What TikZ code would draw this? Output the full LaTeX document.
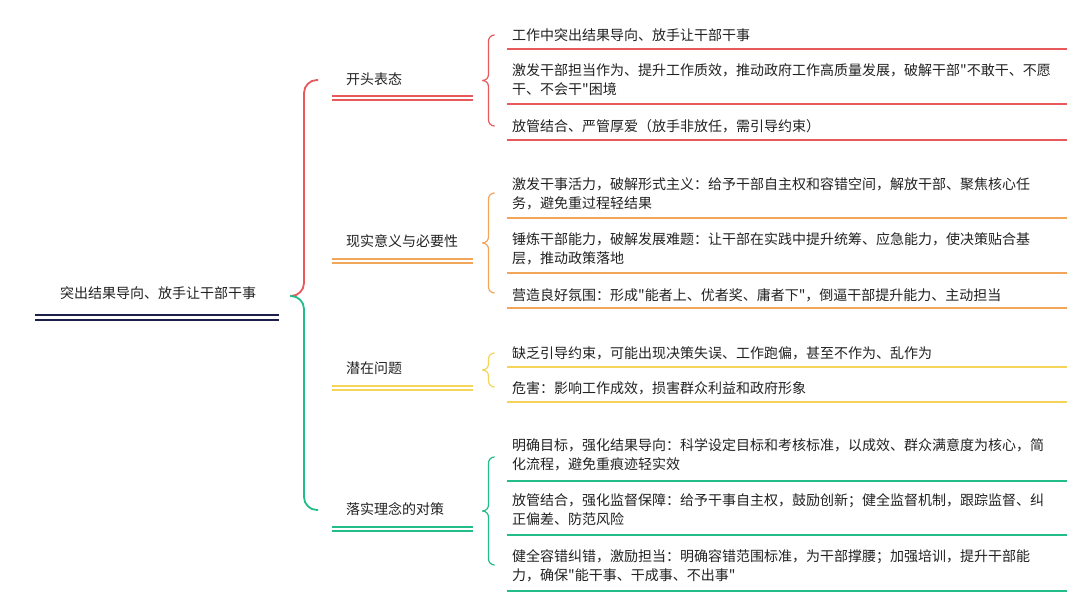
\documentclass[tikz,border=0pt]{standalone}
\usepackage{fontspec}
\setmainfont{Noto Sans CJK SC}[Ligatures=TeXOff]
\definecolor{cred}{HTML}{E8595B}
\definecolor{corange}{HTML}{F2A65A}
\definecolor{cyellow}{HTML}{F4D55A}
\definecolor{cgreen}{HTML}{22BD88}
\definecolor{cnavy}{HTML}{1C1F4A}
\definecolor{tgray}{HTML}{222222}
\begin{document}
\begin{tikzpicture}[x=1pt,y=-1pt,
  txt/.style={anchor=west, inner sep=0pt, align=left, font=\fontsize{14}{19}\selectfont, text=tgray},
  lbl/.style={anchor=west, inner sep=0pt, font=\fontsize{14}{19}\selectfont, text=tgray},
  ul/.style={line width=1.8pt},
  dbl/.style={line width=1.7pt},
  bigbrace/.style={line width=1.8pt, rounded corners=13pt},
  smallbrace/.style={line width=1.2pt, rounded corners=6pt}]
\fill[white] (0,0) rectangle (1080,607);
\useasboundingbox (0,0) rectangle (1080,607);

% root
\node[lbl, anchor=center] (root) at (158,293) {突出结果导向、放手让干部干事};
\draw[cnavy, line width=2.3pt] (35,315) -- (279,315) (35,320) -- (279,320);
\coordinate (rtip) at (290,296);

% branch labels
\node[lbl] (b1) at (346,79) {开头表态};
\node[lbl] (b2) at (346,241) {现实意义与必要性};
\node[lbl] (b3) at (346,368) {潜在问题};
\node[lbl] (b4) at (346,509) {落实理念的对策};
\coordinate (e1) at (318,80);
\coordinate (e4) at (318,510);

% root brace
\draw[cred, bigbrace] (rtip) -- (304,296) -- (304,80) -- (e1);
\draw[cgreen, bigbrace] (rtip) -- (304,296) -- (304,510) -- (e4);

% branch double lines
\draw[cred, dbl] (332,96) -- (473,96) (332,100) -- (473,100);
\draw[corange, dbl] (332,259) -- (473,259) (332,263) -- (473,263);
\draw[cyellow, dbl] (332,386) -- (473,386) (332,390) -- (473,390);
\draw[cgreen, dbl] (332,527) -- (473,527) (332,531) -- (473,531);

% group 1
\node[txt] (a1) at (512,35) {工作中突出结果导向、放手让干部干事};
\node[txt] (a2) at (512,80) {激发干部担当作为、提升工作质效，推动政府工作高质量发展，破解干部"不敢干、不愿\\干、不会干"困境};
\node[txt] (a3) at (512,126) {放管结合、严管厚爱（放手非放任，需引导约束）};
\draw[cred, ul] (507,49) -- (1067,49) (507,104) -- (1067,104) (507,140) -- (1067,140);
\draw[cred, smallbrace] (494,35) -- (488.5,35) -- (488.5,80.5) -- (483,80.5);
\draw[cred, smallbrace] (483,80.5) -- (488.5,80.5) -- (488.5,126) -- (494,126);

% group 2
\node[txt] (c1) at (512,194) {激发干事活力，破解形式主义：给予干部自主权和容错空间，解放干部、聚焦核心任\\务，避免重过程轻结果};
\node[txt] (c2) at (512,249) {锤炼干部能力，破解发展难题：让干部在实践中提升统筹、应急能力，使决策贴合基\\层，推动政策落地};
\node[txt] (c3) at (512,295) {营造良好氛围：形成"能者上、优者奖、庸者下"，倒逼干部提升能力、主动担当};
\draw[corange, ul] (507,218) -- (1067,218) (507,273) -- (1067,273) (507,308) -- (1067,308);
\draw[corange, smallbrace] (494,193) -- (488.5,193) -- (488.5,243) -- (483,243);
\draw[corange, smallbrace] (483,243) -- (488.5,243) -- (488.5,293) -- (494,293);

% group 3
\node[txt] (d1) at (512,353) {缺乏引导约束，可能出现决策失误、工作跑偏，甚至不作为、乱作为};
\node[txt] (d2) at (512,388) {危害：影响工作成效，损害群众利益和政府形象};
\draw[cyellow, ul] (507,367) -- (1067,367) (507,402) -- (1067,402);
\draw[cyellow, smallbrace] (494,353) -- (488.5,353) -- (488.5,370) -- (483,370);
\draw[cyellow, smallbrace] (483,370) -- (488.5,370) -- (488.5,387) -- (494,387);

% group 4
\node[txt] (f1) at (512,455) {明确目标，强化结果导向：科学设定目标和考核标准，以成效、群众满意度为核心，简\\化流程，避免重痕迹轻实效};
\node[txt] (f2) at (512,510) {放管结合，强化监督保障：给予干事自主权，鼓励创新；健全监督机制，跟踪监督、纠\\正偏差、防范风险};
\node[txt] (f3) at (512,566) {健全容错纠错，激励担当：明确容错范围标准，为干部撑腰；加强培训，提升干部能\\力，确保"能干事、干成事、不出事"};
\draw[cgreen, ul] (507,481) -- (1067,481) (507,535) -- (1067,535) (507,591) -- (1067,591);
\draw[cgreen, smallbrace] (494,457) -- (488.5,457) -- (488.5,511) -- (483,511);
\draw[cgreen, smallbrace] (483,511) -- (488.5,511) -- (488.5,565) -- (494,565);
\end{tikzpicture}
\end{document}
